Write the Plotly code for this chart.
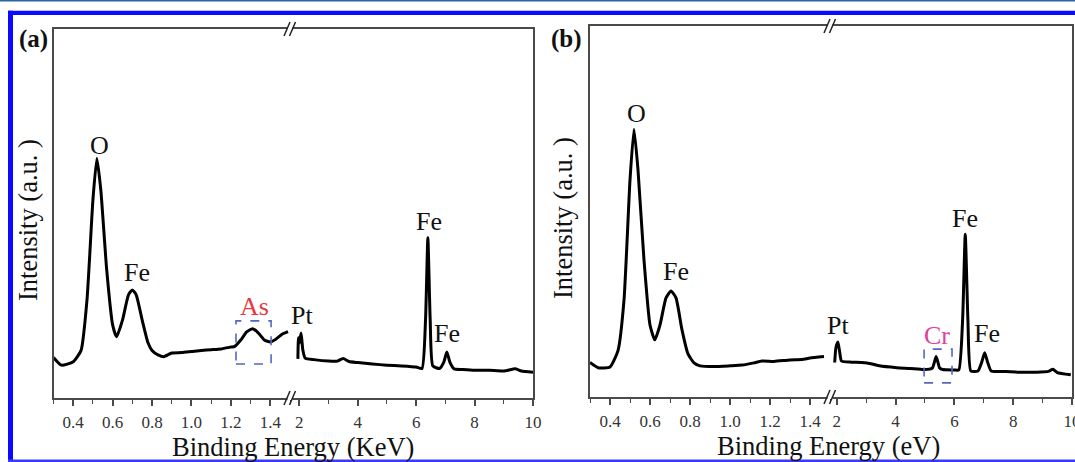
import plotly.graph_objects as go

W, H = 1075, 462

# ---------------- data ----------------
# Panel (a), low-energy segment (keV) and intensity (a.u., 0-100 of frame)
a_low_x = [0.30, 0.34, 0.40, 0.44, 0.47, 0.50, 0.52, 0.54, 0.57, 0.60, 0.62, 0.65, 0.68, 0.70,
           0.72, 0.75, 0.78, 0.80, 0.83, 0.86, 0.90, 0.95, 1.00, 1.05, 1.10, 1.15, 1.20, 1.22,
           1.25, 1.28, 1.31, 1.34, 1.37, 1.40, 1.43, 1.46, 1.49]
a_low_y = [11.0, 8.9, 9.8, 12.9, 26.6, 53.7, 65.0, 56.4, 34.7, 19.8, 16.6, 21.1, 27.9, 29.3,
           27.9, 21.1, 14.9, 12.9, 11.7, 11.2, 12.2, 12.3, 12.6, 12.9, 13.1, 13.3, 13.8, 14.0,
           15.7, 17.9, 18.8, 17.6, 15.7, 15.2, 16.0, 17.3, 18.0]
# Panel (a), high-energy segment
a_high_x = [1.95, 1.97, 2.00, 2.06, 2.12, 2.20, 2.5, 3.0, 3.3, 3.5, 3.7, 4.0, 4.5, 5.0, 5.5, 6.0,
            6.2, 6.32, 6.40, 6.48, 6.57, 6.8, 6.95, 7.05, 7.15, 7.3, 7.6, 8.0, 8.5, 9.0, 9.4, 9.6, 10.0]
a_high_y = [10.6, 16.3, 14.9, 17.6, 13.0, 10.8, 10.4, 10.0, 10.0, 10.7, 9.9, 9.6, 9.2, 8.9, 8.7, 8.4,
            8.0, 21.1, 43.4, 21.1, 8.7, 8.0, 9.8, 12.5, 9.8, 7.9, 7.7, 7.5, 7.5, 7.3, 7.9, 7.3, 7.0]

# Panel (b), low-energy segment
b_low_x = [0.30, 0.34, 0.40, 0.44, 0.47, 0.50, 0.52, 0.54, 0.57, 0.60, 0.624, 0.65, 0.68, 0.705,
           0.73, 0.76, 0.79, 0.82, 0.85, 0.92, 1.00, 1.06, 1.12, 1.16, 1.22, 1.30, 1.36, 1.40, 1.47]
b_low_y = [9.3, 7.9, 8.1, 12.5, 26.1, 58.5, 72.2, 61.2, 36.9, 19.4, 15.4, 19.4, 26.7, 28.6,
           26.7, 18.1, 11.6, 9.2, 8.4, 8.2, 8.4, 8.6, 9.2, 9.7, 9.6, 10.0, 10.1, 10.5, 10.9]
# Panel (b), high-energy segment
b_high_x = [1.93, 1.97, 2.04, 2.10, 2.16, 2.5, 2.86, 3.2, 3.45, 4.04, 4.5, 4.97, 5.25, 5.38, 5.50,
            5.6, 6.0, 6.15, 6.28, 6.37, 6.46, 6.56, 6.8, 6.93, 7.03, 7.13, 7.25, 7.6, 8.14, 8.8,
            9.2, 9.35, 9.5, 9.96]
b_high_y = [9.3, 13.2, 14.8, 12.1, 9.7, 9.4, 9.3, 8.9, 8.4, 7.9, 7.7, 7.4, 7.8, 10.9, 7.8,
            7.4, 7.3, 7.3, 20.8, 43.9, 20.8, 7.0, 7.0, 9.4, 11.9, 9.4, 7.0, 6.9, 6.7, 6.7,
            6.9, 7.5, 6.6, 6.0]

# axis ranges
a_low_range = [0.3, 1.5]
a_high_range = [1.68, 10]
b_low_range = [0.3, 1.5]
b_high_range = [1.77, 10]

# peak labels
a_label_text = ["O", "Fe", "As", "Pt", "Fe", "Fe"]
a_label_x = [0.533, 0.724, 1.32, 2.1, 6.43, 7.05]
a_label_y = [68.3, 33.9, 24.8, 22.3, 47.7, 17.5]
a_label_axes = [("x", "y"), ("x", "y"), ("x", "y"), ("x2", "y2"), ("x2", "y2"), ("x2", "y2")]
b_label_text = ["O", "Fe", "Pt", "Cr", "Fe", "Fe"]
b_label_x = [0.53, 0.73, 2.05, 5.41, 6.37, 7.12]
b_label_y = [76.5, 33.8, 19.4, 16.7, 48.2, 17.2]
b_label_axes = [("x3", "y3"), ("x3", "y3"), ("x4", "y4"), ("x4", "y4"), ("x4", "y4"), ("x4", "y4")]
label_colors = {"As": "#e8373d", "Cr": "#e0409a"}

# ---------------- layout geometry (pixels in the screenshot) ----------------
def px(x):
    return x / W


def py(y):
    return 1 - y / H


A_L, A_B, A_R = 53.5, 290.0, 533.0
A_T, A_BOT = 29.0, 398.0
B_L, B_B, B_R = 590.0, 830.0, 1072.0
B_T, B_BOT = 26.0, 397.0

FONT = "Liberation Serif, Times New Roman, serif"
LINE = dict(color="black", width=3, shape="spline", smoothing=0.5)
FRAME = "#4a4a4a"

fig = go.Figure()
for xs, ys, xa, yax in [(a_low_x, a_low_y, "x", "y"), (a_high_x, a_high_y, "x2", "y2"),
                        (b_low_x, b_low_y, "x3", "y3"), (b_high_x, b_high_y, "x4", "y4")]:
    fig.add_trace(go.Scatter(x=xs, y=ys, mode="lines", line=LINE,
                             xaxis=xa, yaxis=yax, showlegend=False, hoverinfo="skip"))

tickfont = dict(family=FONT, size=17, color="#333")


def xaxis_common(dom, rng, anchor):
    return dict(domain=dom, range=rng, anchor=anchor, showgrid=False, zeroline=False,
                showline=True, linecolor=FRAME, linewidth=1.8, mirror=True,
                ticks="outside", ticklen=6, tickwidth=1.5, tickcolor=FRAME,
                tickfont=tickfont, ticklabelstandoff=2, automargin=False,
                ticklabeloverflow="allow")


def xaxis_low(dom, rng, anchor):
    d = xaxis_common(dom, rng, anchor)
    d.update(tick0=0.4, dtick=0.2, tickformat=".1f",
             minor=dict(dtick=0.1, tick0=0.3, ticks="outside", ticklen=4,
                        tickcolor=FRAME, tickwidth=1.3))
    return d


def xaxis_high(dom, rng, anchor):
    d = xaxis_common(dom, rng, anchor)
    d.update(tick0=2, dtick=2, tickformat="d",
             minor=dict(dtick=1, tick0=2, ticks="outside", ticklen=4,
                        tickcolor=FRAME, tickwidth=1.3))
    return d


def yaxis(dom, anchor, side):
    return dict(domain=dom, range=[0, 100], anchor=anchor, side=side, showgrid=False,
                zeroline=False, showline=True, linecolor=FRAME, linewidth=1.8,
                showticklabels=False, ticks="", automargin=False)


ya = [py(A_BOT), py(A_T)]
yb = [py(B_BOT), py(B_T)]
fig.update_layout(
    width=W, height=H, margin=dict(l=0, r=0, t=0, b=0, autoexpand=False),
    paper_bgcolor="white", plot_bgcolor="white",
    xaxis=xaxis_low([px(A_L), px(A_B)], a_low_range, "y"),
    xaxis2=xaxis_high([px(A_B), px(A_R)], a_high_range, "y2"),
    xaxis3=xaxis_low([px(B_L), px(B_B)], b_low_range, "y3"),
    xaxis4=xaxis_high([px(B_B), px(B_R)], b_high_range, "y4"),
    yaxis=yaxis(ya, "x", "left"),
    yaxis2=yaxis(ya, "x2", "right"),
    yaxis3=yaxis(yb, "x3", "left"),
    yaxis4=yaxis(yb, "x4", "right"),
)

ann = []
for texts, xs, ys, axes in [(a_label_text, a_label_x, a_label_y, a_label_axes),
                            (b_label_text, b_label_x, b_label_y, b_label_axes)]:
    for txt, x, y, (xr, yr) in zip(texts, xs, ys, axes):
        ann.append(dict(text=txt, x=x, y=y, xref=xr, yref=yr, showarrow=False,
                        xanchor="center", yanchor="middle",
                        font=dict(family=FONT, size=26, color=label_colors.get(txt, "#111"))))


def paper_text(text, x, y, size, angle=0):
    return dict(text=text, x=px(x), y=py(y), xref="paper", yref="paper",
                xanchor="center", yanchor="middle", textangle=angle, showarrow=False,
                font=dict(family=FONT, size=size, color="#111"))


ann += [
    paper_text("Binding Energy (KeV)", 293, 447, 26.5),
    paper_text("Binding Energy (eV)", 828, 446, 26.5),
    paper_text("Intensity (a.u. )", 28, 220, 26.5, -90),
    paper_text("Intensity (a.u. )", 563, 218, 26.5, -90),
    paper_text("<b>(a)</b>", 33, 39, 25),
    paper_text("<b>(b)</b>", 566, 39, 25),
]
fig.update_layout(annotations=ann)

shapes = []
# dashed highlight boxes
shapes.append(dict(type="rect", xref="x", yref="y", x0=1.226, x1=1.404, y0=9.2, y1=20.9,
                   line=dict(color="#5466c4", width=1.6, dash="dash")))
shapes.append(dict(type="rect", xref="x4", yref="y4", x0=4.97, x1=5.92, y0=3.8, y1=12.9,
                   line=dict(color="#5466c4", width=1.6, dash="dash")))

# axis-break marks "//" (top and bottom of each frame)
for xb, yt, ybot in [(A_B, A_T, A_BOT), (B_B, B_T, B_BOT)]:
    for yy in (yt, ybot):
        shapes.append(dict(type="rect", xref="paper", yref="paper",
                           x0=px(xb - 2.5), x1=px(xb + 2.5), y0=py(yy + 2), y1=py(yy - 2),
                           fillcolor="white", line=dict(width=0)))
        for off in (-3.0, 2.5):
            shapes.append(dict(type="line", xref="paper", yref="paper",
                               x0=px(xb + off - 3), y0=py(yy + 7),
                               x1=px(xb + off + 3), y1=py(yy - 7),
                               line=dict(color="#222", width=1.5)))

# blue page frame
BLUE = "#0a0aff"
shapes += [
    dict(type="rect", xref="paper", yref="paper", x0=0, x1=1, y0=py(1.6), y1=1,
         fillcolor="#2b63a8", line=dict(width=0)),
    dict(type="rect", xref="paper", yref="paper", x0=px(8), x1=1, y0=py(15), y1=py(10.7),
         fillcolor=BLUE, line=dict(width=0)),
    dict(type="rect", xref="paper", yref="paper", x0=px(8), x1=px(13), y0=0, y1=py(10.7),
         fillcolor=BLUE, line=dict(width=0)),
    dict(type="rect", xref="paper", yref="paper", x0=px(8), x1=1, y0=0, y1=py(459.5),
         fillcolor="#3a3aff", line=dict(width=0)),
]
fig.update_layout(shapes=shapes)

fig.write_html("out.html",
               config={"displayModeBar": False},
               post_script="document.body.style.margin='0';"
                           "document.body.style.overflow='hidden';"
                           "document.documentElement.style.overflow='hidden';")
